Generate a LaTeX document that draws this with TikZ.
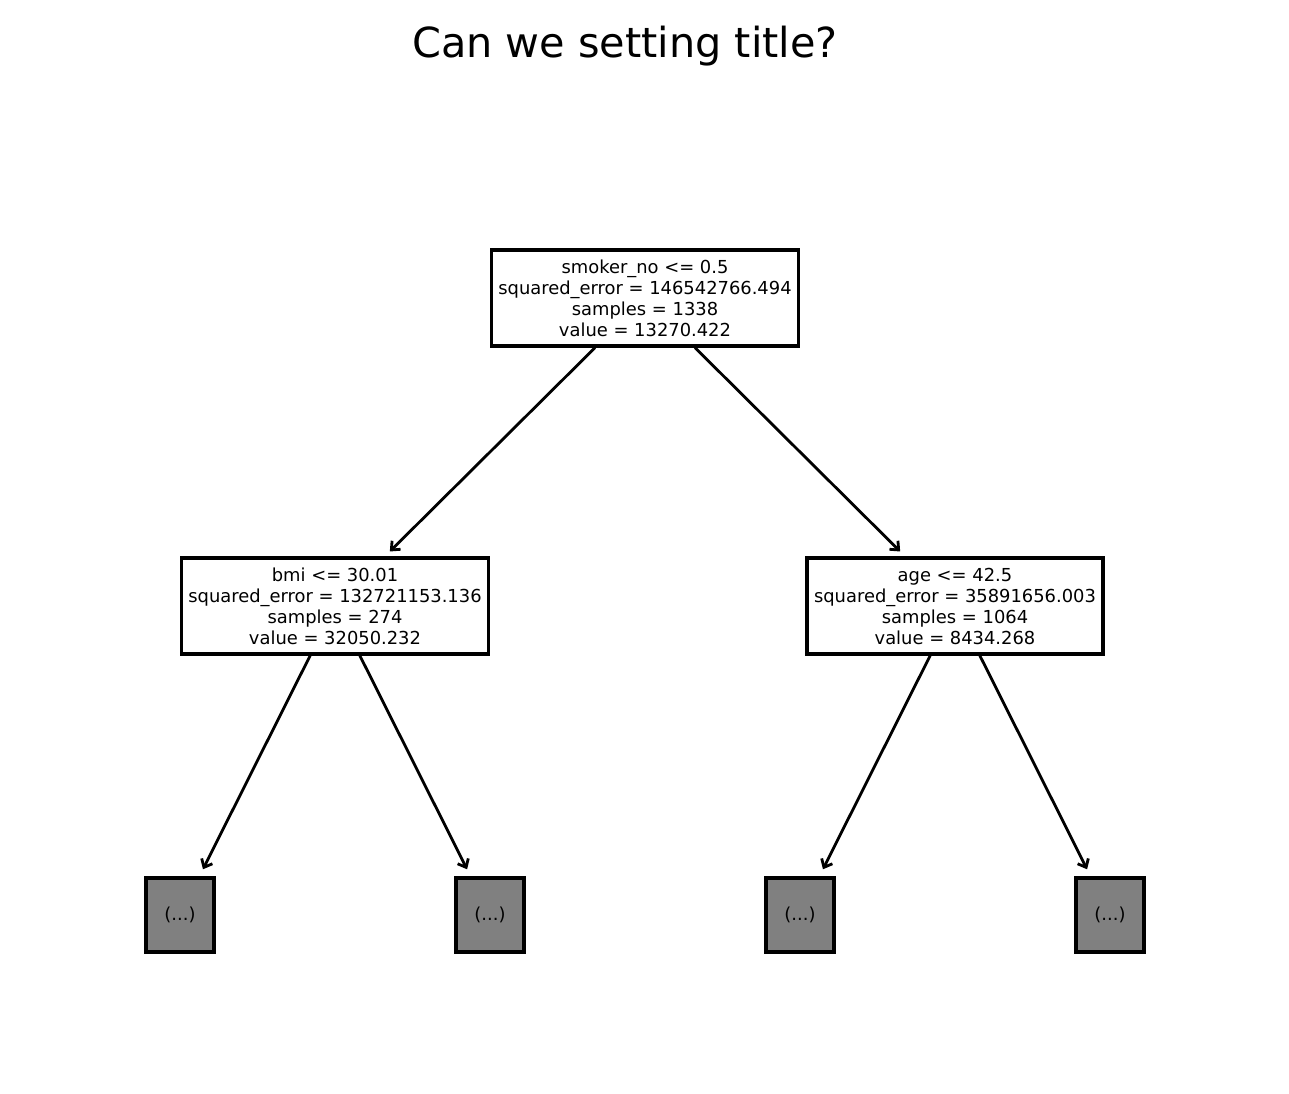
\documentclass[tikz,border=0pt]{standalone}
\usepackage{fontspec}
\setmainfont{DejaVu Sans}
\usetikzlibrary{arrows.meta}

\begin{document}
\begin{tikzpicture}[x=0.5pt,y=-0.5pt]

      \useasboundingbox (0,0) rectangle (1289,1093);

      \node (title) at (625,46) {\fontsize{20.7}{25}\selectfont Can we setting title?};

      \begin{scope}[every node/.style={draw,line width=1.6pt,align=center,
          inner xsep=3.5pt,minimum height=48pt,
          font=\fontsize{8.95}{10.5}\selectfont}]
        \node (0) at (645,298) {smoker\_no <= 0.5\\squared\_error = 146542766.494\\samples = 1338\\value = 13270.422};
        \node (1) at (335,606) {bmi <= 30.01\\squared\_error = 132721153.136\\samples = 274\\value = 32050.232};
        \node (4) at (955,606) {age <= 42.5\\squared\_error = 35891656.003\\samples = 1064\\value = 8434.268};
      \end{scope}

      \begin{scope}[every node/.style={draw,line width=1.6pt,fill=gray,
          minimum width=34pt,minimum height=37pt,inner sep=0pt,
          font=\fontsize{8.95}{10.5}\selectfont}]
        \node (2) at (180,915)  {(...)};
        \node (3) at (490,915)  {(...)};
        \node (5) at (800,915)  {(...)};
        \node (6) at (1110,915) {(...)};
      \end{scope}

      \begin{scope}[every edge/.style={draw,line width=1.4pt,
          -{Straight Barb[length=3.5pt,width=6pt]}}]
        \path (0) edge[shorten >=3.5pt] (1);
        \path (0) edge[shorten >=3.5pt] (4);
        \path (1) edge[shorten >=4pt] (2);
        \path (1) edge[shorten >=4pt] (3);
        \path (4) edge[shorten >=4pt] (5);
        \path (4) edge[shorten >=4pt] (6);
      \end{scope}

    \end{tikzpicture}
\end{document}
